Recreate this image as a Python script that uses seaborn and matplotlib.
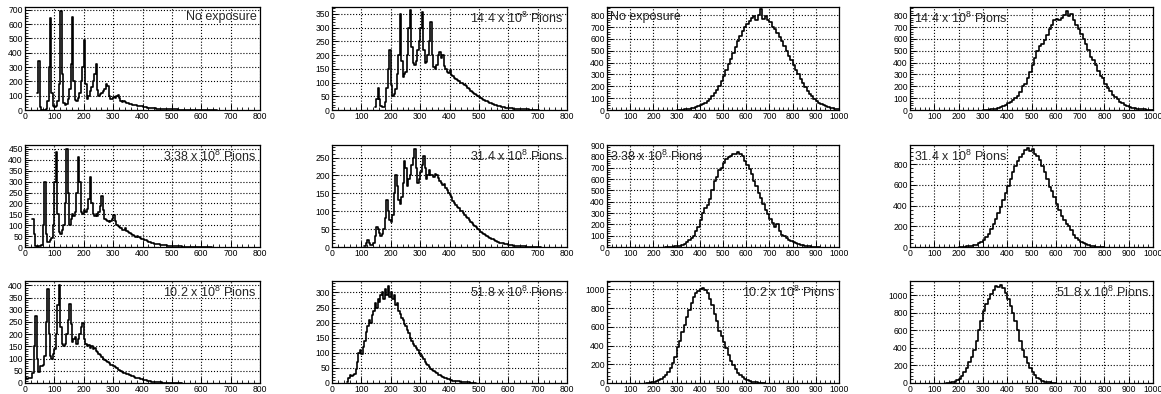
import numpy as np
import pandas as pd
import matplotlib
matplotlib.use("Agg")
import matplotlib.pyplot as plt
import seaborn as sns
from matplotlib.ticker import MultipleLocator, AutoMinorLocator

sns.set_style("white")
plt.rcParams["font.family"] = ["Liberation Sans", "DejaVu Sans"]
plt.rcParams["mathtext.default"] = "regular"

# bin widths of the two spectra
left_bin = 5
right_bin = 10

labels = ["No exposure", "3.38 x 10$^{8}$ Pions", "10.2 x 10$^{8}$ Pions",
          "14.4 x 10$^{8}$ Pions", "31.4 x 10$^{8}$ Pions", "51.8 x 10$^{8}$ Pions"]

# left spectrum (0-800), first bin edge + counts
left_start = [40, 25, 0, 145, 110, 50]
left_none = [120, 340, 20, 0, 0, 0, 5, 60, 300, 640, 120, 25, 20, 30, 60, 180, 690, 250, 50, 35,
             45, 80, 150, 320, 650, 200, 70, 65, 85, 120, 200, 300, 490, 180, 80, 100, 130, 160, 200, 250,
             320, 140, 95, 110, 120, 130, 150, 180, 170, 100, 80, 75, 90, 85, 95, 105, 85, 60, 55, 62,
             55, 50, 46, 42, 39, 35, 34, 32, 30, 28, 26, 25, 22, 21, 18, 17, 15, 14, 13, 12,
             11, 10, 9, 9, 8, 8, 7, 7, 6, 6, 5, 5, 5, 4, 4, 4, 3, 3, 3, 3,
             3, 2, 2, 2, 2, 2, 2, 2, 1, 1, 1, 1, 1, 1, 1, 1, 1, 0, 1, 0, 1, 0, 0]
left_338 = [130, 60, 5, 0, 5, 5, 10, 100, 300, 60, 25, 25, 30, 40, 100, 300, 435, 150, 70, 60,
            80, 100, 200, 450, 250, 100, 130, 150, 140, 160, 250, 415, 300, 160, 150, 170, 160, 175, 220, 320,
            200, 150, 140, 150, 140, 160, 190, 235, 170, 130, 125, 120, 115, 120, 130, 145, 120, 100, 95, 90,
            85, 80, 78, 85, 75, 68, 62, 58, 55, 52, 48, 52, 45, 40, 38, 36, 33, 30, 28, 25,
            22, 20, 18, 16, 15, 13, 12, 11, 10, 9, 8, 7, 6, 6, 5, 5, 4, 4, 3, 3,
            3, 3, 2, 2, 2, 2, 2, 2, 1, 1, 1, 1, 1, 1, 1, 1, 1, 1, 0, 1, 0, 0]
left_102 = [25, 18, 20, 20, 22, 40, 150, 275, 100, 45, 70, 70, 75, 110, 250, 385, 200, 110, 100, 120,
            140, 200, 320, 400, 230, 160, 150, 160, 200, 260, 325, 240, 170, 180, 190, 160, 180, 200, 230, 245,
            180, 160, 150, 155, 145, 150, 140, 145, 130, 125, 120, 115, 105, 100, 95, 90, 85, 80, 75, 72,
            68, 65, 60, 55, 52, 48, 45, 42, 40, 38, 36, 33, 30, 28, 25, 22, 20, 19, 18, 16,
            14, 12, 11, 9, 8, 7, 6, 5, 5, 4, 4, 3, 3, 2, 2, 2, 1, 1, 1, 1,
            1, 1, 1, 0, 1, 0, 0]
left_144 = [10, 40, 80, 40, 15, 10, 12, 30, 80, 150, 220, 90, 50, 60, 75, 130, 200, 350, 180, 120,
            130, 140, 200, 300, 365, 230, 170, 165, 180, 220, 250, 300, 355, 220, 170, 175, 200, 250, 320, 200,
            155, 150, 165, 200, 210, 190, 200, 160, 150, 140, 135, 145, 128, 122, 118, 112, 108, 104, 100, 97,
            95, 92, 86, 80, 76, 70, 66, 62, 58, 54, 52, 48, 44, 40, 37, 34, 31, 28, 26, 24,
            22, 20, 18, 16, 15, 13, 12, 11, 10, 9, 8, 8, 7, 6, 5, 5, 4, 4, 3, 3,
            3, 2, 2, 2, 2, 1, 1, 1, 1, 1, 1, 0]
left_314 = [2, 10, 20, 12, 5, 5, 10, 30, 55, 50, 40, 30, 35, 50, 80, 130, 100, 75, 70, 90,
            150, 200, 170, 130, 120, 140, 180, 240, 220, 170, 190, 200, 230, 250, 275, 220, 180, 190, 210, 230,
            255, 220, 190, 200, 215, 200, 200, 195, 205, 200, 192, 185, 180, 172, 175, 165, 158, 150, 145, 140,
            128, 122, 118, 112, 108, 100, 100, 94, 90, 85, 80, 75, 70, 66, 62, 58, 55, 50, 47, 43,
            40, 37, 34, 31, 28, 25, 23, 21, 19, 17, 15, 13, 12, 11, 10, 9, 8, 7, 6, 6,
            5, 4, 4, 3, 3, 3, 2, 2, 2, 2, 1, 1, 1, 1, 1, 1, 1, 0, 1, 0]
left_518 = [2, 15, 25, 22, 28, 30, 45, 70, 100, 110, 95, 120, 140, 170, 190, 210, 200, 225, 240, 265,
            250, 280, 270, 290, 300, 280, 310, 290, 320, 285, 300, 280, 290, 260, 265, 240, 230, 215, 210, 195,
            188, 175, 165, 150, 140, 130, 122, 115, 108, 100, 93, 85, 78, 70, 64, 58, 53, 48, 44, 40,
            36, 32, 28, 25, 22, 20, 17, 15, 13, 12, 10, 9, 8, 7, 6, 5, 5, 4, 4, 3,
            3, 2, 2, 2, 1, 1, 1, 0]

# right spectrum (0-1000), first bin edge + counts
right_start = [300, 250, 170, 300, 200, 150]
right_none = [2, 3, 4, 6, 8, 10, 14, 18, 24, 30, 40, 50, 62, 78, 95, 115, 140, 170, 205, 245,
              290, 335, 385, 430, 480, 530, 580, 625, 665, 700, 730, 755, 775, 790, 760, 800, 850, 770, 790, 760,
              740, 700, 680, 650, 620, 580, 540, 500, 460, 420, 380, 340, 300, 265, 230, 195, 160, 135, 115, 95,
              78, 62, 50, 40, 32, 25, 18, 13, 9, 6]
right_338 = [1, 2, 3, 4, 6, 9, 13, 20, 30, 45, 60, 80, 100, 140, 180, 240, 300, 340, 370, 420,
             500, 580, 620, 680, 700, 740, 780, 790, 800, 820, 820, 840, 820, 800, 760, 720, 690, 640, 580, 540,
             480, 430, 380, 330, 290, 250, 210, 180, 200, 140, 110, 100, 80, 65, 55, 45, 35, 28, 22, 16,
             12, 8, 6, 4, 3, 2, 1]
right_102 = [2, 4, 7, 12, 20, 30, 45, 65, 90, 120, 160, 210, 280, 380, 450, 540, 620, 700, 780, 850,
             920, 960, 980, 1000, 1020, 990, 960, 900, 830, 740, 660, 560, 500, 440, 370, 300, 240, 190, 150, 110,
             85, 60, 45, 30, 22, 15, 10, 6, 4, 2, 1]
right_144 = [2, 3, 4, 5, 8, 12, 18, 25, 35, 45, 55, 70, 85, 100, 120, 150, 200, 220, 270, 320,
             380, 440, 500, 540, 560, 590, 630, 680, 720, 760, 770, 760, 780, 800, 840, 790, 810, 760, 720, 680,
             640, 600, 560, 510, 450, 420, 380, 330, 290, 270, 220, 190, 160, 130, 110, 90, 70, 55, 45, 35,
             25, 20, 15, 10, 8, 6, 5, 4, 3, 2]
right_314 = [2, 3, 4, 5, 7, 10, 15, 22, 35, 50, 70, 100, 130, 170, 220, 270, 330, 390, 450, 520,
             590, 660, 720, 780, 830, 870, 900, 940, 960, 930, 950, 900, 880, 840, 780, 720, 660, 580, 540, 480,
             420, 360, 300, 260, 220, 200, 160, 120, 90, 70, 50, 35, 25, 15, 10, 6, 4, 3, 2, 1]
right_518 = [2, 4, 8, 15, 30, 50, 80, 120, 170, 240, 300, 380, 480, 600, 700, 820, 900, 960, 1010, 1060,
             1100, 1090, 1110, 1080, 1020, 960, 880, 800, 700, 600, 480, 380, 300, 230, 170, 130, 90, 60, 40, 25,
             15, 10, 6, 4, 2]

left_counts = [left_none, left_338, left_102, left_144, left_314, left_518]
right_counts = [right_none, right_338, right_102, right_144, right_314, right_518]

# panel layout (pixels): column left/right, row top/bottom
col_px = [(25, 260), (332, 567), (607, 839), (910, 1153)]
row_px = [(7, 110), (145, 247), (281, 383)]
W, H = 1161, 394

# y limits and major tick step per panel [row][col]
ylims = [[720, 375, 870, 870], [468, 285, 900, 985], [418, 338, 1090, 1160]]
ysteps = [[100, 50, 100, 100], [50, 50, 100, 200], [50, 50, 200, 200]]
# label placement: True = top-right, False = top-left
label_right = [[True, True, False, False], [True, True, False, False], [True, True, True, True]]

fig = plt.figure(figsize=(W / 100, H / 100), dpi=100)

for col in range(4):
    for row in range(3):
        idx = row + 3 * (col % 2)
        if col < 2:
            counts, start, width, xmax = left_counts[idx], left_start[idx], left_bin, 800
        else:
            counts, start, width, xmax = right_counts[idx], right_start[idx], right_bin, 1000
        x0, x1 = col_px[col]
        t, b = row_px[row]
        ax = fig.add_axes([x0 / W, 1 - b / H, (x1 - x0) / W, (b - t) / H])

        edges = start + width * np.arange(len(counts) + 1)
        df = pd.DataFrame({"x": edges[:-1] + width / 2, "w": counts})
        sns.histplot(data=df, x="x", weights="w", bins=list(edges), element="step",
                     fill=False, color="black", linewidth=1.2, ax=ax)

        ax.set_xlim(0, xmax)
        ax.set_ylim(0, ylims[row][col])
        ax.set_xlabel("")
        ax.set_ylabel("")
        ax.xaxis.set_major_locator(MultipleLocator(100))
        ax.xaxis.set_minor_locator(AutoMinorLocator(5))
        ax.yaxis.set_major_locator(MultipleLocator(ysteps[row][col]))
        ax.yaxis.set_minor_locator(AutoMinorLocator(5))
        ax.tick_params(which="both", direction="in", labelsize=6.2, pad=1.5,
                       bottom=True, left=True, top=False, right=False, colors="black")
        ax.tick_params(which="major", length=4, width=0.7)
        ax.tick_params(which="minor", length=2, width=0.6)
        ax.grid(True, which="major", linestyle=":", color="black", linewidth=0.8)
        for sp in ax.spines.values():
            sp.set_color("black")
            sp.set_linewidth(0.9)

        if label_right[row][col]:
            ax.text(0.985, 0.96, labels[idx], transform=ax.transAxes, ha="right", va="top", fontsize=9)
        else:
            ax.text(0.015, 0.96, labels[idx], transform=ax.transAxes, ha="left", va="top", fontsize=9)

fig.savefig("out.png", dpi=100)
